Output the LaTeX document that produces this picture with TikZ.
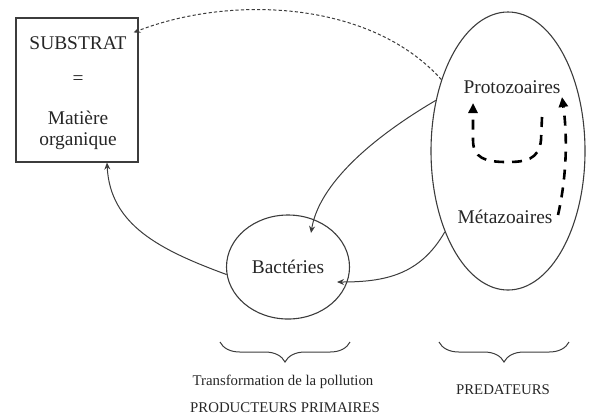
\documentclass[tikz,border=0pt]{standalone}
\usepackage{fontspec}
\setmainfont{Liberation Serif}
\usepackage{tikz}
\usetikzlibrary{calc,arrows.meta,shapes.geometric,decorations.pathreplacing}
\definecolor{ink}{HTML}{262626}
\definecolor{edge}{HTML}{3C3C3C}
\tikzset{
  box/.style={draw=edge, line width=0.55pt, minimum width=61pt, minimum height=72pt, inner sep=0pt},
  blob/.style={ellipse, draw=edge, line width=0.55pt, inner sep=0pt},
  lab/.style={text=ink, font=\fontsize{9.7}{11.5}\selectfont},
  labs/.style={text=ink, font=\fontsize{7.4}{9}\selectfont},
  flow/.style={draw=edge, line width=0.5pt, -{Stealth[length=3.5pt,width=3pt]}},
  back/.style={flow, dash pattern=on 1.6pt off 1.1pt},
  recyc/.style={draw=black, line width=1.3pt, dash pattern=on 5pt off 4pt, -{Triangle[length=5pt,width=4.5pt]}},
  curl/.style={draw=edge, line width=0.5pt, decorate, decoration={brace, mirror, amplitude=10pt}}
}
\begin{document}
\begin{tikzpicture}[x=0.5pt,y=-0.5pt]
  \useasboundingbox (0,0) rectangle (592,414);
  \node[box] (subst) at (77,90) {};
  \node[lab] (substrat) at (78,43) {SUBSTRAT};
  \node[lab] (egal) at (78,80) {=};
  \node[lab] (matiere) at (78,118) {Matière};
  \node[lab] (organ) at (78,141) {organique};
  \node[blob, minimum width=77pt, minimum height=139pt] (pred) at (508,151) {};
  \node[lab] (proto) at (512,87) {Protozoaires};
  \node[lab] (meta) at (505,217) {Métazoaires};
  \node[blob, lab, minimum width=61.5pt, minimum height=52pt] (bact) at (288,267) {Bactéries};
  \draw[back] (pred.133) .. controls (370,0) and (230,-5) .. ([shift={(-5,15)}]subst.north east);
  \draw[flow] (pred.145) .. controls (360,145) and (318,190) .. ([shift={(23,-34)}]bact.center);
  \draw[flow] (pred.232) .. controls (420,275) and (385,282) .. ([shift={(49,15)}]bact.center);
  \draw[flow] (bact.187) .. controls (160,250) and (110,225) .. ([shift={(30,0)}]subst.south);
  \draw[recyc] (542,117) -- (541,140) .. controls (539,160) and (525,162) .. (507,162)
    .. controls (485,162) and (473,158) .. (473,140) -- (473,103);
  \draw[recyc] (558,215) .. controls (566,180) and (568,140) .. (562,97);
  \draw[curl] (220,342) -- (350,342);
  \draw[curl] (439,342) -- (569,342);
  \node[labs] (transf) at (283,382) {Transformation de la pollution};
  \node[labs] (prod) at (285,408) {PRODUCTEURS PRIMAIRES};
  \node[labs] (predat) at (503,390) {PREDATEURS};
\end{tikzpicture}
\end{document}
